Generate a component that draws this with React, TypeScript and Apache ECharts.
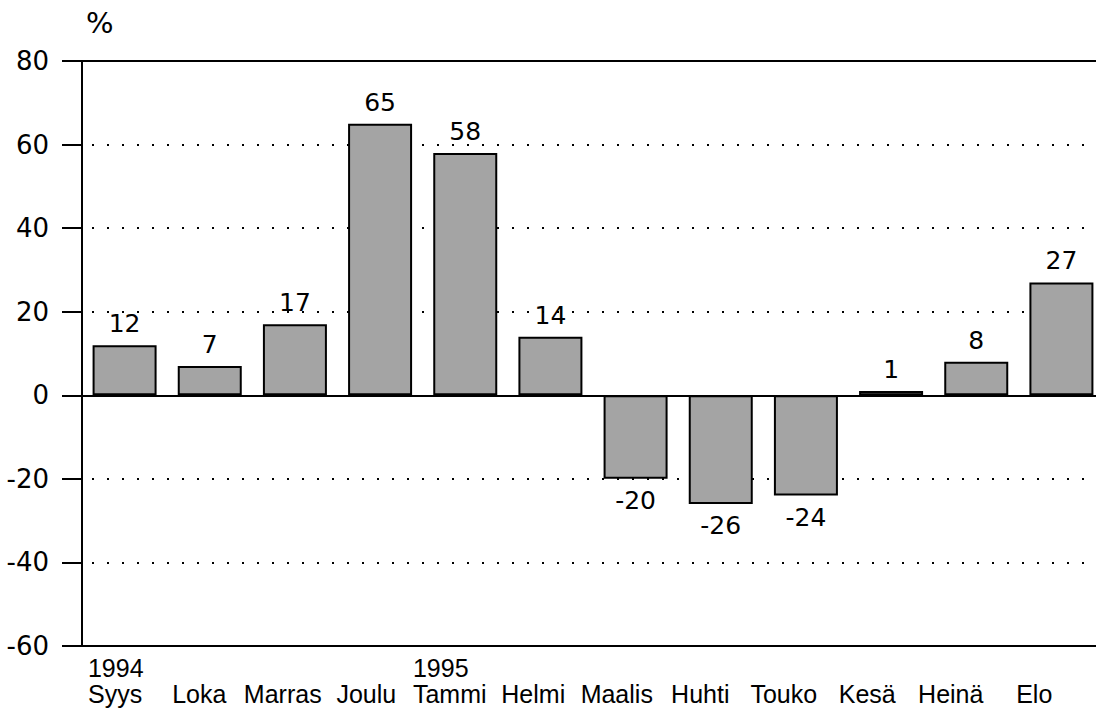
import React, { useEffect, useRef } from "react";
import * as echarts from "echarts";

const months = ["Syys", "Loka", "Marras", "Joulu", "Tammi", "Helmi", "Maalis", "Huhti", "Touko", "Kesä", "Heinä", "Elo"];
const years = ["1994", "", "", "", "1995", "", "", "", "", "", "", ""];
const values = [12, 7, 17, 65, 58, 14, -20, -26, -24, 1, 8, 27];
const yTicks = { min: -60, max: 80, interval: 20 };
const unitLabel = "%";

export default function App() {
  const ref = useRef<HTMLDivElement>(null);
  useEffect(() => {
    if (!ref.current) return;
    const chart = echarts.init(ref.current, undefined, { renderer: "svg" });
    const numFont = "DejaVu Sans";
    chart.setOption({
      animation: false,
      backgroundColor: "#fff",
      graphic: [
        {
          type: "text",
          left: 86,
          top: 8,
          style: { text: unitLabel, fontSize: 29, fontFamily: numFont, fill: "#000" },
        },
      ],
      grid: [
        { left: 82, right: 0, top: 61, bottom: 67, show: true, borderColor: "#000", borderWidth: 2, backgroundColor: "transparent" },
        { left: 74, right: 28, top: 61, bottom: 67 },
      ],
      xAxis: [
        {
          type: "category",
          gridIndex: 0,
          data: months,
          axisLine: { onZero: true, lineStyle: { color: "#000", width: 2 } },
          axisTick: { show: false },
          axisLabel: { show: false },
          splitLine: { show: false },
        },
        {
          type: "category",
          gridIndex: 1,
          data: months,
          axisLine: { show: false },
          axisTick: { show: false },
          splitLine: { show: false },
          axisLabel: {
            interval: 0,
            margin: 9,
            formatter: (v: string, i: number) => `{y|${years[i] || " "}}\n{m|${v}}`,
            rich: {
              y: { fontSize: 25, fontFamily: "Liberation Sans", color: "#000", lineHeight: 26, align: "left" },
              m: { fontSize: 25, fontFamily: "Liberation Sans", color: "#000", lineHeight: 26, align: "left" },
            },
          },
        },
      ],
      yAxis: [
        {
          type: "value",
          gridIndex: 0,
          min: yTicks.min,
          max: yTicks.max,
          interval: yTicks.interval,
          axisLine: { show: true, lineStyle: { color: "#000", width: 2 } },
          axisTick: { show: true, inside: false, length: 20, lineStyle: { color: "#000", width: 2 } },
          axisLabel: { margin: 33, fontSize: 26, fontFamily: numFont, color: "#000" },
          splitLine: {
            show: true,
            lineStyle: { color: "#000", width: 2, type: [2, 13], dashOffset: -10 },
          },
        },
        {
          type: "value",
          gridIndex: 1,
          min: yTicks.min,
          max: yTicks.max,
          interval: yTicks.interval,
          show: false,
        },
      ],
      series: [
        {
          type: "bar",
          xAxisIndex: 0,
          yAxisIndex: 0,
          barWidth: 64,
          data: values.map((v) => ({
            value: v,
            label: { position: v < 0 ? "bottom" : "top" },
          })),
          itemStyle: { color: "#a4a4a4", borderColor: "#000", borderWidth: 2 },
          label: {
            show: true,
            distance: 9,
            fontSize: 25,
            fontFamily: numFont,
            color: "#000",
          },
        },
      ],
    });
    return () => chart.dispose();
  }, []);
  return (
    <div
      ref={ref}
      style={{ position: "fixed", left: 0, top: 0, width: 1104, height: 713 }}
    />
  );
}
